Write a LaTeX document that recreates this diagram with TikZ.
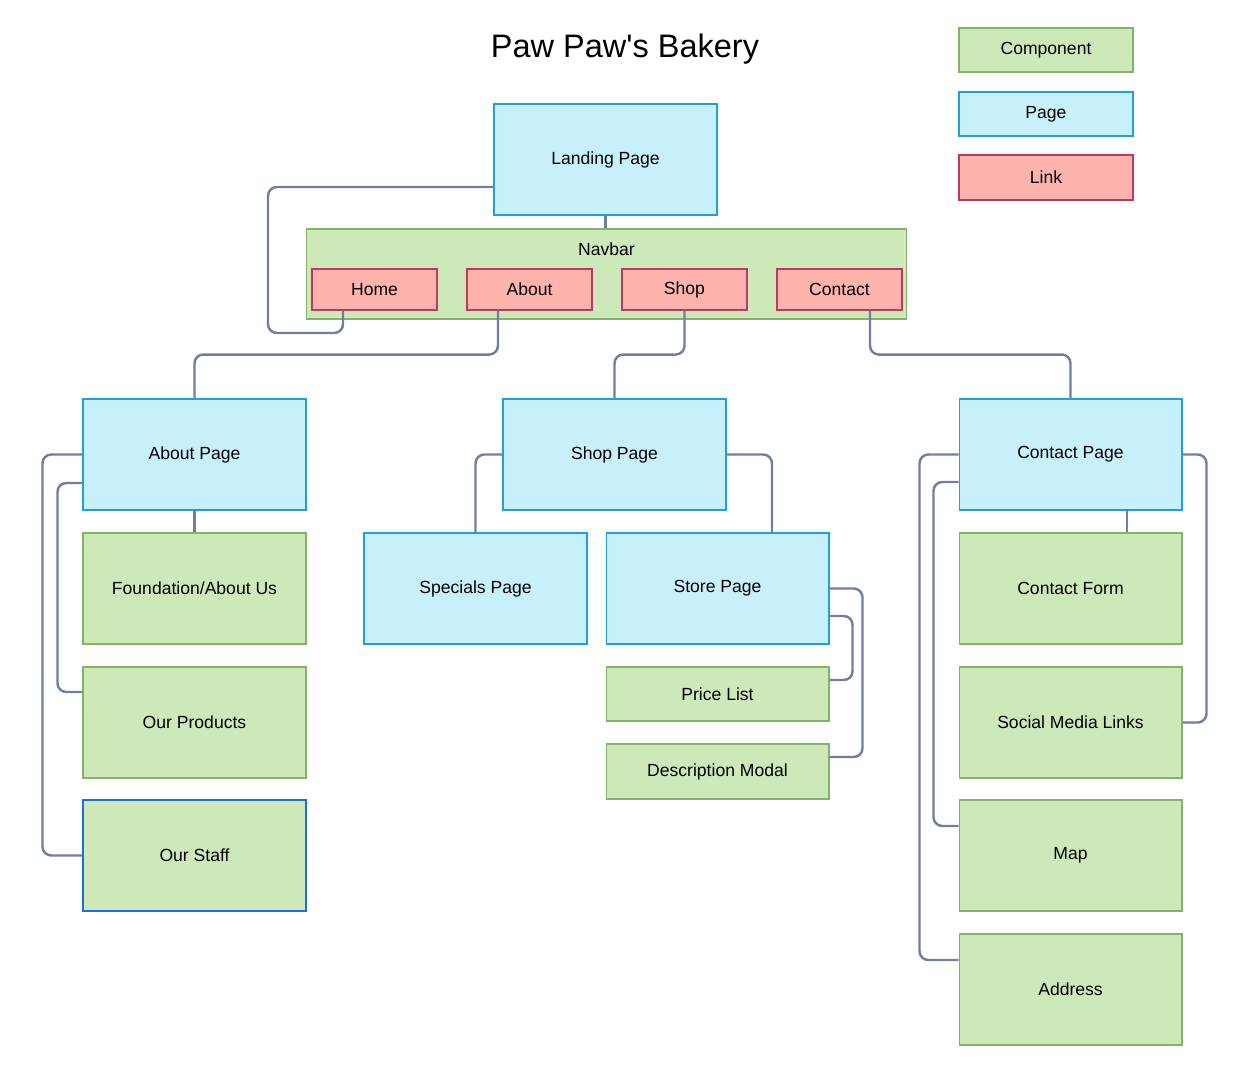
\documentclass[tikz,border=0pt]{standalone}
\usepackage{fontspec}
\setmainfont{Liberation Sans}
\definecolor{compfill}{HTML}{CDE8B9}
\definecolor{compline}{HTML}{82B366}
\definecolor{pagefill}{HTML}{C8EFFC}
\definecolor{pageline}{HTML}{1BA1E2}
\definecolor{linkfill}{HTML}{FFB3AD}
\definecolor{linkline}{HTML}{C0385F}
\definecolor{wirecol}{HTML}{6D80A2}
\definecolor{pickline}{HTML}{1A6FE0}
\tikzset{
  box/.style={rectangle, draw, line width=0.6pt, inner sep=0pt, align=center,
    font=\fontsize{10}{12}\selectfont, minimum width=4.46cm, minimum height=2.22cm},
  compbox/.style={box, fill=compfill, draw=compline},
  pagebox/.style={box, fill=pagefill, draw=pageline},
  linkbox/.style={box, fill=linkfill, draw=linkline, minimum width=2.5cm, minimum height=0.82cm},
  wire/.style={draw=wirecol, line width=1.4pt, rounded corners=5pt}
}
\begin{document}
\begin{tikzpicture}[x=0.02cm, y=-0.02cm]
        \useasboundingbox (0,0) rectangle (1245,1081);

        % Title and legend
        \node (title) at (625,49) [font=\fontsize{18.5}{22}\selectfont] {Paw Paw\textquotesingle s Bakery};
        \node (legcomp) at (1046,50) [compbox, minimum height=0.88cm, minimum width=3.48cm] {Component};
        \node (legpage) at (1046,114) [pagebox, minimum height=0.88cm, minimum width=3.48cm] {Page};
        \node (leglink) at (1046,177.5) [linkbox, minimum height=0.9cm, minimum width=3.48cm] {Link};

        % Nodes
        \node (landing) at (605.5,159.5) [pagebox] {Landing Page};
        \node (navbar) at (606.5,274) [compbox, minimum width=12.02cm, minimum height=1.8cm] {};
        \node (navlabel) at (606.5,249) [font=\fontsize{10}{12}\selectfont] {Navbar};
        \node (home) at (374.5,289.5) [linkbox] {Home};
        \node (about) at (529.5,289.5) [linkbox] {About};
        \node (shop) at (684.5,289.5) [linkbox] {Shop};
        \node (contact) at (839.5,289.5) [linkbox] {Contact};

        \node (aboutpage) at (194.5,454.5) [pagebox] {About Page};
        \node (foundation) at (194.5,588.5) [compbox] {Foundation/About Us};
        \node (products) at (194.5,722.5) [compbox] {Our Products};
        \node (staff) at (194.5,855.5) [compbox, draw=pickline, line width=1.3pt] {Our Staff};

        \node (shoppage) at (614.5,454.5) [pagebox] {Shop Page};
        \node (specials) at (475.5,588.5) [pagebox] {Specials Page};
        \node (store) at (717.5,588.5) [pagebox] {Store Page};
        \node (pricelist) at (717.5,694) [compbox, minimum height=1.08cm] {Price List};
        \node (modal) at (717.5,771.5) [compbox, minimum height=1.1cm] {Description Modal};

        \node (contactpage) at (1070.5,454.5) [pagebox] {Contact Page};
        \node (contactform) at (1070.5,588.5) [compbox] {Contact Form};
        \node (social) at (1070.5,722.5) [compbox] {Social Media Links};
        \node (map) at (1070.5,855.5) [compbox] {Map};
        \node (address) at (1070.5,989.5) [compbox] {Address};

        % Edges
        \draw[wire] (landing.south) -- (landing.south |- navbar.north);
        \draw[wire] ([yshift=-0.55cm]landing.west) -| (268,333) -| ([xshift=-0.63cm]home.south);
        \draw[wire] ([xshift=-0.63cm]about.south) -- ++(0,44) -| (aboutpage.north);
        \draw[wire] (shop.south) -- ++(0,44) -| (shoppage.north);
        \draw[wire] ([xshift=0.61cm]contact.south) -- ++(0,44) -| (contactpage.north);

        \draw[wire] (aboutpage.south) -- (foundation.north);
        \draw[wire] ([yshift=-0.57cm]aboutpage.west) -- ++(-25,0) |- ([yshift=0.61cm]products.west);
        \draw[wire] (aboutpage.west) -- ++(-40,0) |- (staff.west);

        \draw[wire] (shoppage.west) -| (specials.north);
        \draw[wire] (shoppage.east) -| ([xshift=1.09cm]store.north);
        \draw[wire] (store.east) -- ++(33,0) |- ([yshift=0.29cm]modal.east);
        \draw[wire] ([yshift=-0.55cm]store.east) -- ++(23,0) |- ([yshift=0.28cm]pricelist.east);

        \draw[wire] ([xshift=1.13cm]contactpage.south) -- ([xshift=1.13cm]contactform.north);
        \draw[wire] (contactpage.east) -- ++(24,0) |- (social.east);
        \draw[wire] ([yshift=-0.55cm]contactpage.west) -- ++(-25,0) |- ([yshift=0.59cm]map.west);
        \draw[wire] (contactpage.west) -- ++(-39,0) |- ([yshift=0.59cm]address.west);
    \end{tikzpicture}
\end{document}
